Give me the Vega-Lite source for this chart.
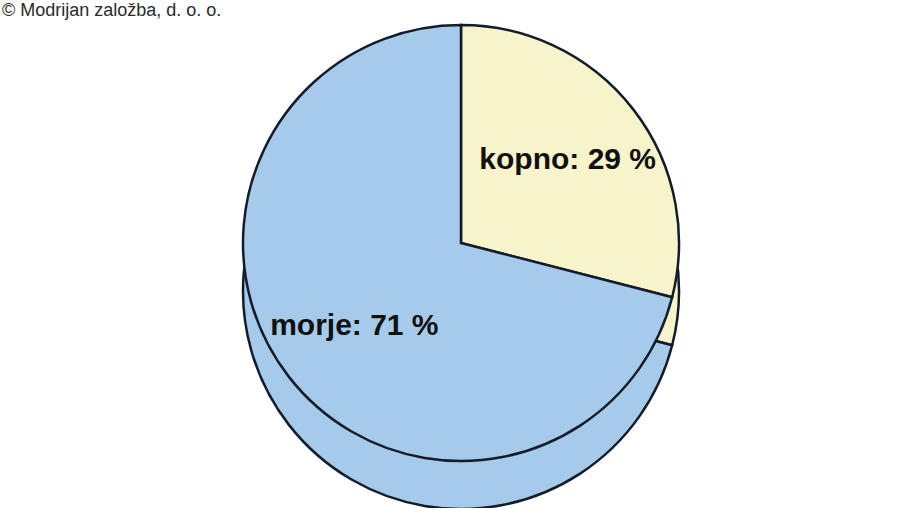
{
  "$schema": "https://vega.github.io/schema/vega-lite/v6.json",
  "width": 920,
  "height": 508,
  "autosize": {"type": "fit", "contains": "padding"},
  "padding": {"left": 2, "top": 8, "right": 0, "bottom": 0},
  "background": "#ffffff",
  "title": {
    "text": "© Modrijan založba, d. o. o.",
    "anchor": "start",
    "frame": "group",
    "font": "Liberation Sans",
    "fontSize": 18,
    "fontWeight": "normal",
    "color": "#2a2a2a",
    "offset": 0
  },
  "data": {
    "values": [
      {"kategorija": "kopno", "delez": 29, "oznaka": "kopno: 29 %"},
      {"kategorija": "morje", "delez": 71, "oznaka": "morje: 71 %"}
    ]
  },
  "encoding": {
    "theta": {"field": "delez", "type": "quantitative", "stack": true},
    "order": {"field": "delez", "type": "quantitative", "sort": "ascending"}
  },
  "layer": [
    {
      "mark": {"type": "arc", "outerRadius": 218, "yOffset": 24, "stroke": "#141c2b", "strokeWidth": 2.5},
      "encoding": {
        "color": {
          "field": "kategorija",
          "type": "nominal",
          "scale": {"domain": ["kopno", "morje"], "range": ["#f7f3cb", "#a6cbea"]},
          "legend": null
        }
      }
    },
    {
      "mark": {"type": "arc", "outerRadius": 218, "yOffset": -24, "stroke": "#141c2b", "strokeWidth": 2.5},
      "encoding": {
        "color": {
          "field": "kategorija",
          "type": "nominal",
          "scale": {"domain": ["kopno", "morje"], "range": ["#fcf9d6", "#acd0ec"]},
          "legend": null
        }
      }
    },
    {
      "mark": {"type": "text", "radius": 135, "yOffset": -24, "font": "Liberation Sans", "fontSize": 30, "fontWeight": "bold", "color": "#111111"},
      "encoding": {
        "text": {"field": "oznaka", "type": "nominal"}
      }
    }
  ],
  "config": {"view": {"stroke": null}}
}
